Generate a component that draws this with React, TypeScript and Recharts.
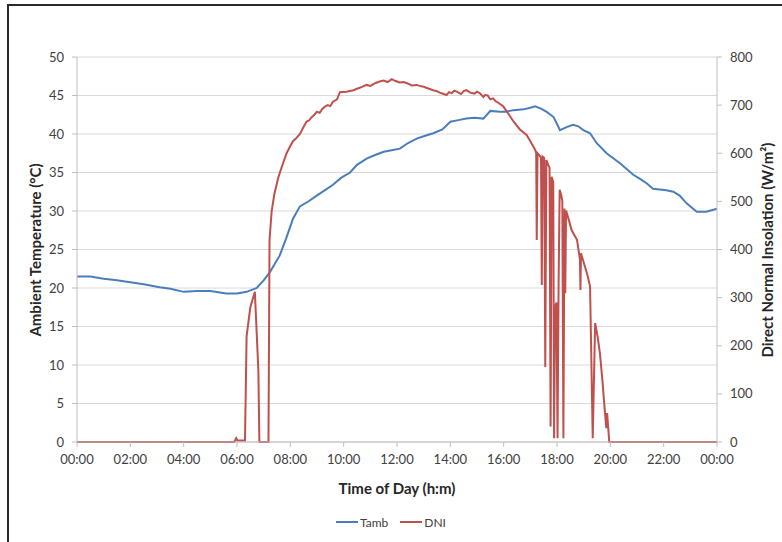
import React from "react";
import { LineChart, Line, XAxis, YAxis, CartesianGrid, Legend } from "recharts";

// Ambient temperature (°C) vs hour of day
const tambHours = [0, 0.5, 1.0, 1.5, 1.87, 2.5, 3.1, 3.5, 4.0, 4.5, 5.0, 5.6, 6.0, 6.36, 6.74, 7.0, 7.24, 7.6, 7.85, 8.1, 8.36, 8.7, 8.99, 9.3, 9.6, 9.9, 10.24, 10.5, 10.86, 11.2, 11.5, 11.8, 12.11, 12.4, 12.74, 13.0, 13.36, 13.7, 14.0, 14.3, 14.6, 14.9, 15.24, 15.5, 15.86, 16.1, 16.37, 16.75, 17.0, 17.18, 17.4, 17.6, 17.87, 18.0, 18.11, 18.36, 18.6, 18.8, 18.99, 19.24, 19.49, 19.86, 20.36, 20.86, 21.1, 21.36, 21.6, 22.1, 22.36, 22.6, 22.86, 23.24, 23.6, 24];
const tambValues = [21.5, 21.5, 21.2, 21.0, 20.8, 20.5, 20.1, 19.9, 19.5, 19.6, 19.6, 19.3, 19.3, 19.5, 20.0, 21.0, 22.1, 24.2, 26.5, 29.0, 30.6, 31.3, 32.0, 32.7, 33.4, 34.3, 35.0, 36.0, 36.8, 37.3, 37.7, 37.9, 38.1, 38.8, 39.4, 39.7, 40.1, 40.6, 41.6, 41.8, 42.0, 42.1, 42.0, 43.0, 42.9, 42.9, 43.1, 43.2, 43.4, 43.6, 43.3, 42.9, 42.2, 41.3, 40.5, 40.9, 41.2, 41.0, 40.5, 40.1, 38.8, 37.5, 36.2, 34.7, 34.2, 33.6, 32.9, 32.7, 32.5, 32.0, 31.0, 29.9, 29.9, 30.3];

// Direct normal insolation (W/m²) vs hour of day
const dniHours = [0, 5.9, 5.97, 6.02, 6.3, 6.36, 6.5, 6.67, 6.8, 6.84, 7.18, 7.22, 7.3, 7.4, 7.55, 7.7, 7.86, 8.0, 8.1, 8.2, 8.36, 8.5, 8.61, 8.7, 8.8, 8.9, 8.99, 9.1, 9.2, 9.3, 9.4, 9.5, 9.6, 9.75, 9.86, 10.1, 10.36, 10.6, 10.86, 11.0, 11.2, 11.35, 11.5, 11.65, 11.8, 11.95, 12.1, 12.25, 12.4, 12.55, 12.74, 12.9, 13.0, 13.2, 13.36, 13.5, 13.6, 13.75, 13.86, 13.95, 14.05, 14.15, 14.24, 14.4, 14.5, 14.6, 14.75, 14.9, 15.0, 15.1, 15.24, 15.3, 15.4, 15.5, 15.6, 15.7, 15.8, 15.99, 16.2, 16.37, 16.6, 16.86, 17.0, 17.18, 17.22, 17.24, 17.27, 17.35, 17.4, 17.43, 17.46, 17.52, 17.56, 17.6, 17.68, 17.72, 17.76, 17.8, 17.86, 17.89, 17.93, 17.98, 18.02, 18.06, 18.1, 18.16, 18.2, 18.24, 18.28, 18.31, 18.34, 18.45, 18.55, 18.75, 18.86, 18.88, 18.9, 19.05, 19.15, 19.24, 19.34, 19.43, 19.52, 19.61, 19.7, 19.8, 19.85, 19.88, 19.92, 19.96, 24];
const dniValues = [0, 0, 8, 3, 3, 220, 280, 312, 150, 0, 0, 420, 480, 515, 550, 575, 600, 615, 625, 630, 640, 655, 666, 668, 675, 680, 686, 684, 692, 697, 700, 698, 707, 712, 727, 728, 731, 736, 742, 740, 746, 749, 751, 748, 754, 750, 747, 748, 745, 741, 742, 739, 738, 734, 731, 729, 726, 723, 721, 727, 725, 730, 728, 723, 729, 731, 726, 724, 728, 725, 717, 721, 720, 712, 714, 708, 705, 697, 680, 666, 650, 638, 625, 607, 600, 420, 600, 595, 590, 326, 593, 590, 156, 586, 575, 570, 32, 551, 540, 8, 281, 290, 8, 330, 524, 513, 500, 8, 485, 309, 481, 460, 440, 420, 380, 316, 392, 364, 345, 323, 8, 247, 220, 184, 130, 60, 29, 60, 30, 0, 0];

const xTicks = [0, 2, 4, 6, 8, 10, 12, 14, 16, 18, 20, 22, 24];
const xTickLabels = ["00:00", "02:00", "04:00", "06:00", "08:00", "10:00", "12:00", "14:00", "16:00", "18:00", "20:00", "22:00", "00:00"];
const tempTicks = [0, 5, 10, 15, 20, 25, 30, 35, 40, 45, 50];
const dniTicks = [0, 100, 200, 300, 400, 500, 600, 700, 800];

const tambData = tambHours.map((t, i) => ({ t, tamb: tambValues[i] }));
const dniData = dniHours.map((t, i) => ({ t, dni: dniValues[i] }));

const FONT = "Lato, 'Open Sans', sans-serif";
const BLUE = "#4A7EBB";
const RED = "#C0504D";

const tickStyle = { fontSize: 13, fill: "#404040", fontFamily: FONT };

const legendContent = () => (
  <div style={{ display: "flex", justifyContent: "center", alignItems: "center", height: 20, fontFamily: FONT, fontSize: 12, color: "#404040" }}>
    <span style={{ display: "inline-block", width: 22, height: 2, background: BLUE, marginRight: 2 }} />
    <span style={{ marginRight: 12 }}>Tamb</span>
    <span style={{ display: "inline-block", width: 22, height: 2, background: RED, marginRight: 2 }} />
    <span>DNI</span>
  </div>
);

export default function App() {
  return (
    <div style={{ position: "absolute", left: 0, top: 0, width: 782, height: 542, background: "#fff", overflow: "hidden" }}>
      <div style={{ position: "absolute", left: 7, top: 4, width: 775, height: 2, background: "#2a2a2a" }} />
      <div style={{ position: "absolute", left: 7, top: 4, width: 2, height: 538, background: "#2a2a2a" }} />
      <LineChart width={782} height={542} margin={{ top: 57, right: 0, bottom: 0, left: 0 }}>
        <CartesianGrid yAxisId="left" vertical={false} stroke="#D9D9D9" strokeWidth={1} />
        <XAxis
          type="number"
          dataKey="t"
          domain={[0, 24]}
          ticks={xTicks}
          interval={0}
          tickFormatter={(v: number, i: number) => xTickLabels[i]}
          tick={tickStyle}
          tickLine={{ stroke: "#BFBFBF" }}
          axisLine={{ stroke: "#BFBFBF" }}
          tickSize={5}
          tickMargin={8}
          height={80}
          allowDataOverflow
          label={{
            content: (props: any) => {
              const vb = props.viewBox;
              return (
                <text x={vb.x + vb.width / 2} y={488} textAnchor="middle" dominantBaseline="central" fontFamily={FONT} fontSize={15} fontWeight="bold" fill="#262626">
                  Time of Day (h:m)
                </text>
              );
            },
          }}
        />
        <YAxis
          yAxisId="left"
          domain={[0, 50]}
          ticks={tempTicks}
          interval={0}
          width={77}
          tick={tickStyle}
          tickLine={{ stroke: "#BFBFBF" }}
          axisLine={{ stroke: "#BFBFBF" }}
          tickSize={5}
          tickMargin={8}
          label={{
            content: () => (
              <text x={35} y={250} transform="rotate(-90 35 250)" textAnchor="middle" dominantBaseline="central" fontFamily={FONT} fontSize={15} fontWeight="bold" fill="#262626">
                Ambient Temperature (°C)
              </text>
            ),
          }}
        />
        <YAxis
          yAxisId="right"
          orientation="right"
          domain={[0, 800]}
          ticks={dniTicks}
          interval={0}
          width={65}
          tick={tickStyle}
          tickLine={{ stroke: "#BFBFBF" }}
          axisLine={{ stroke: "#BFBFBF" }}
          tickSize={5}
          tickMargin={8}
          label={{
            content: () => (
              <text x={767} y={250} transform="rotate(-90 767 250)" textAnchor="middle" dominantBaseline="central" fontFamily={FONT} fontSize={15} fontWeight="bold" fill="#262626">
                Direct Normal Insolation (W/m²)
              </text>
            ),
          }}
        />
        <Legend verticalAlign="bottom" height={20} content={legendContent} wrapperStyle={{ top: 512, left: 0, width: 782 }} />
        <Line yAxisId="left" data={tambData} dataKey="tamb" name="Tamb" type="linear" stroke={BLUE} strokeWidth={2} dot={false} activeDot={false} isAnimationActive={false} />
        <Line yAxisId="right" data={dniData} dataKey="dni" name="DNI" type="linear" stroke={RED} strokeWidth={2} dot={false} activeDot={false} isAnimationActive={false} />
      </LineChart>
    </div>
  );
}
